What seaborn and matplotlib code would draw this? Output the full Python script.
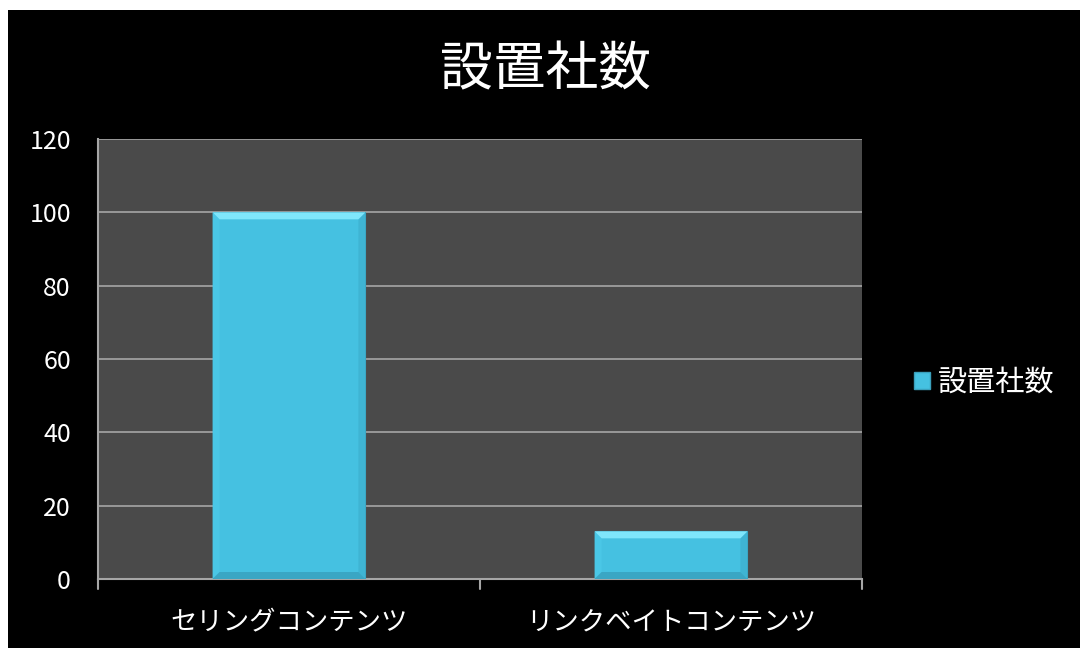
import numpy as np
import pandas as pd
import matplotlib
matplotlib.use("Agg")
import matplotlib.pyplot as plt
from matplotlib.patches import Rectangle, Polygon
import seaborn as sns

categories = ["セリングコンテンツ", "リンクベイトコンテンツ"]
values = [100, 13]
series_name = "設置社数"
title = "設置社数"
yticks = [0, 20, 40, 60, 80, 100, 120]

sns.set_theme(style="dark")
plt.rcParams['font.family'] = ['Noto Sans CJK JP', 'DejaVu Sans']

fig = plt.figure(figsize=(10.8, 6.48), dpi=100)
fig.patch.set_facecolor("white")
fig.patches.append(Rectangle((8/1080, 0), 1 - 8/1080, 1 - 10/648,
                             transform=fig.transFigure, facecolor="black",
                             edgecolor="none", zorder=-10))

ax = fig.add_axes([98/1080, 69/648, (862-98)/1080, (579-139)/648])
ax.set_facecolor("#4a4a4a")

df = pd.DataFrame({"cat": categories, "val": values, "series": series_name})
sns.barplot(data=df, x="cat", y="val", color="#45c1e1", width=0.4, ax=ax,
            saturation=1, edgecolor="#3a9fbb", linewidth=0.8, zorder=3)

# bevel effect (pixel-sized) on each bar
px_x = 1 / 382.0      # data units per pixel in x
px_y = 120 / 440.0    # data units per pixel in y
b = 7
for p in list(ax.patches):
    x0, y0 = p.get_x(), p.get_y()
    w, h = p.get_width(), p.get_height()
    x1, y1 = x0 + w, y0 + h
    bx, by = b * px_x, b * px_y
    ax.add_patch(Polygon([(x0, y1), (x1, y1), (x1 - bx, y1 - by), (x0 + bx, y1 - by)],
                         closed=True, facecolor="#7fe6fb", edgecolor="none", zorder=3.6))
    ax.add_patch(Polygon([(x0, y1), (x0 + bx, y1 - by), (x0 + bx, y0 + by), (x0, y0)],
                         closed=True, facecolor="#4ac7e6", edgecolor="none", zorder=3.5))
    ax.add_patch(Polygon([(x1, y1), (x1 - bx, y1 - by), (x1 - bx, y0 + by), (x1, y0)],
                         closed=True, facecolor="#3fb4d3", edgecolor="none", zorder=3.5))
    ax.add_patch(Polygon([(x0, y0), (x1, y0), (x1 - bx, y0 + by), (x0 + bx, y0 + by)],
                         closed=True, facecolor="#3aa6c4", edgecolor="none", zorder=3.5))

ax.set_xlim(-0.5, 1.5)
ax.set_ylim(0, 120)
ax.set_yticks(yticks)
ax.set_yticklabels([str(t) for t in yticks], color="white", fontsize=18)
ax.set_xticks([0, 1])
ax.set_xticklabels(categories, color="white", fontsize=19)
ax.set_xlabel("")
ax.set_ylabel("")
ax.grid(axis="y", color="#a6a6a6", linewidth=1.2, zorder=1)
ax.grid(axis="x", visible=False)
for s in ["top", "right"]:
    ax.spines[s].set_visible(False)
for s in ["left", "bottom"]:
    ax.spines[s].set_visible(True)
    ax.spines[s].set_color("#a6a6a6")
    ax.spines[s].set_linewidth(1.5)
ax.tick_params(axis="y", direction="out", length=6.5, color="#a6a6a6", width=1.5, pad=13)
ax.tick_params(axis="x", length=0, pad=22)
for xb in [-0.5, 0.5, 1.5]:
    ax.plot([xb, xb], [0, -2.7], color="#a6a6a6", lw=1.5, clip_on=False, zorder=5)

fig.text(545/1080, 1 - 70/648, title, color="white", fontsize=38,
         ha="center", va="center", fontweight="normal")

ax.legend(handles=[Rectangle((0, 0), 1, 1, facecolor="#45c1e1", edgecolor="#3a9fbb")],
          labels=[series_name], loc="center left", bbox_to_anchor=(888/1080, 1 - 383/648),
          bbox_transform=fig.transFigure, frameon=False, labelcolor="white",
          fontsize=21, handlelength=0.55, handleheight=0.55, handletextpad=0.25)

fig.savefig("out.png", dpi=100, facecolor=fig.get_facecolor())
